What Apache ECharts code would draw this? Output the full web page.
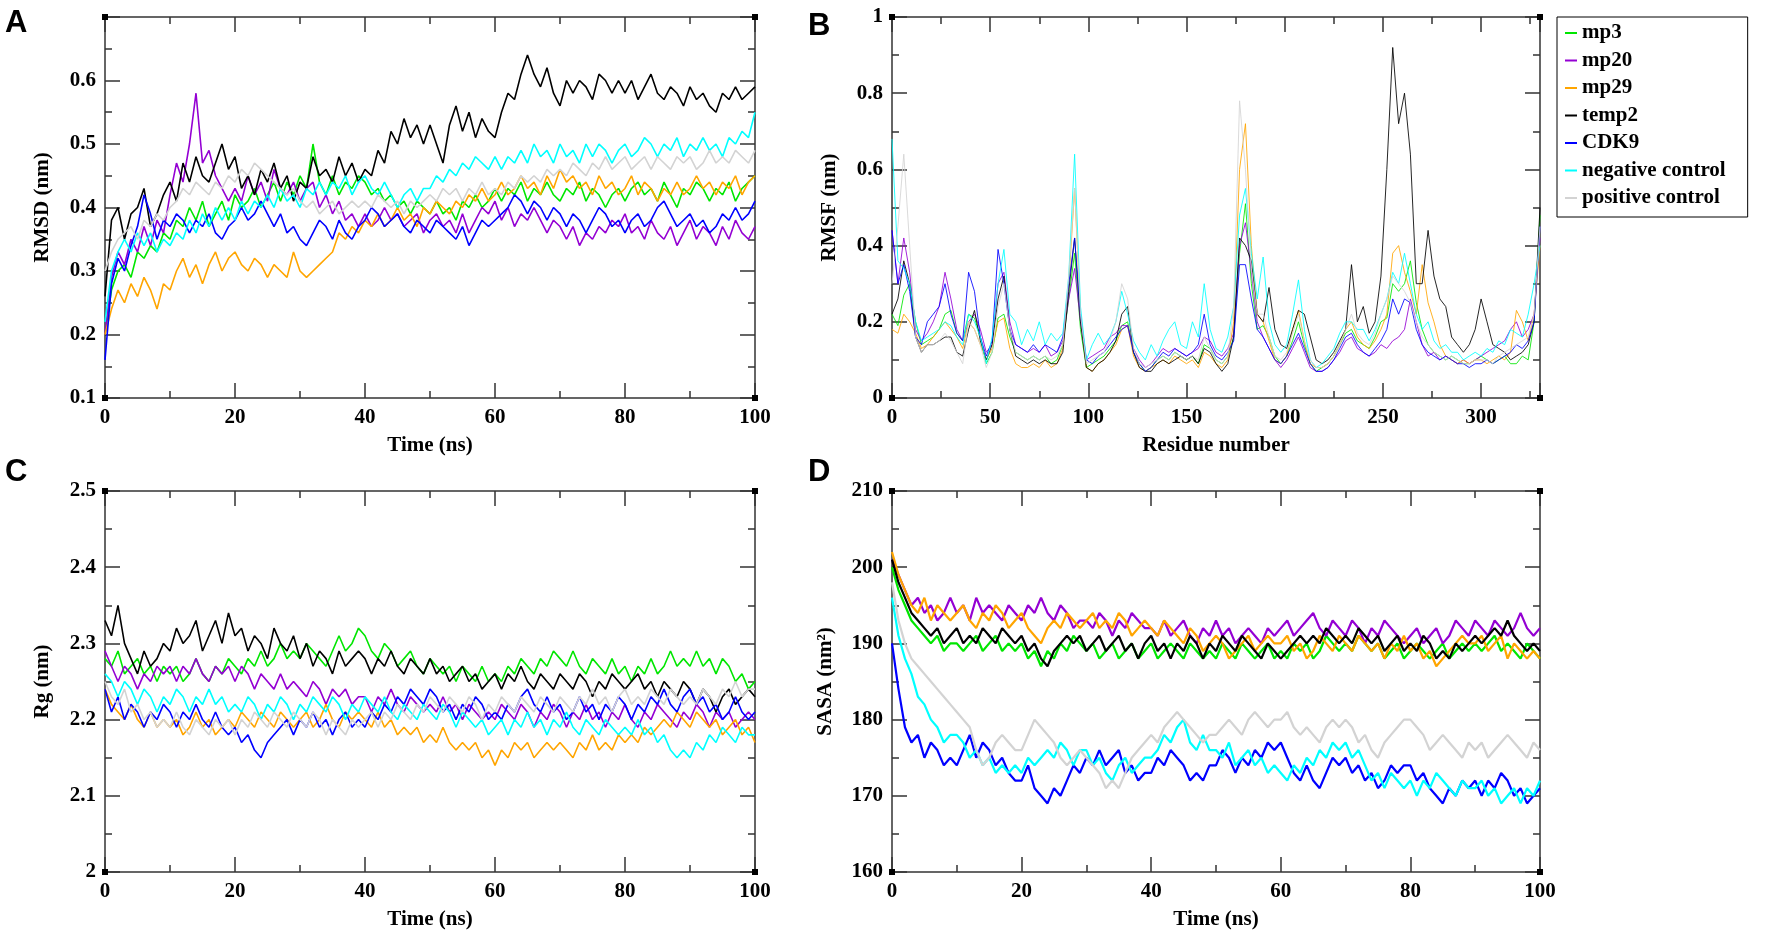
<!DOCTYPE html>
<html>
<head>
<meta charset="utf-8">
<script src="https://cdn.jsdelivr.net/npm/echarts@6/dist/echarts.min.js"></script>
<style>
  html, body { margin: 0; padding: 0; background: #fff; }
  #chart { width: 1772px; height: 933px; }
</style>
</head>
<body>
<div id="chart"></div>
<script>
const SERIES_NAMES = ["mp3", "mp20", "mp29", "temp2", "CDK9", "negative control", "positive control"];
const SERIES_COLORS = ["#00e600", "#9400d3", "#ffa500", "#000000", "#0000ff", "#00ffff", "#d3d3d3"];

const TIME_NS = [
  0, 1, 2, 3, 4, 5, 6, 7, 8, 9, 10, 11, 12, 13, 14, 15, 16, 17, 18, 19,
  20, 21, 22, 23, 24, 25, 26, 27, 28, 29, 30, 31, 32, 33, 34, 35, 36, 37, 38, 39,
  40, 41, 42, 43, 44, 45, 46, 47, 48, 49, 50, 51, 52, 53, 54, 55, 56, 57, 58, 59,
  60, 61, 62, 63, 64, 65, 66, 67, 68, 69, 70, 71, 72, 73, 74, 75, 76, 77, 78, 79,
  80, 81, 82, 83, 84, 85, 86, 87, 88, 89, 90, 91, 92, 93, 94, 95, 96, 97, 98, 99, 100
];
const RESIDUES = [
  0, 3, 6, 9, 12, 15, 18, 21, 24, 27, 30, 33, 36, 39, 42, 45, 48, 51, 54, 57,
  60, 63, 66, 69, 72, 75, 78, 81, 84, 87, 90, 93, 96, 99, 102, 105, 108, 111, 114, 117,
  120, 123, 126, 129, 132, 135, 138, 141, 144, 147, 150, 153, 156, 159, 162, 165, 168, 171, 174, 177,
  180, 183, 186, 189, 192, 195, 198, 201, 204, 207, 210, 213, 216, 219, 222, 225, 228, 231, 234, 237,
  240, 243, 246, 249, 252, 255, 258, 261, 264, 267, 270, 273, 276, 279, 282, 285, 288, 291, 294, 297,
  300, 303, 306, 309, 312, 315, 318, 321, 324, 327, 330
];

// ---- A: RMSD (nm) ----
const rmsdMp3 = [
  0.20,0.27,0.30,0.31,0.29,0.33,0.32,0.34,0.33,0.36, 0.35,0.38,0.37,0.40,0.38,0.41,0.37,0.39,0.41,0.38,
  0.42,0.40,0.41,0.43,0.40,0.42,0.44,0.41,0.44,0.42, 0.45,0.43,0.50,0.44,0.42,0.45,0.42,0.44,0.43,0.45,
  0.44,0.42,0.43,0.41,0.42,0.40,0.41,0.39,0.41,0.40, 0.39,0.41,0.39,0.40,0.38,0.41,0.40,0.42,0.40,0.41,
  0.43,0.41,0.43,0.42,0.44,0.41,0.43,0.42,0.44,0.42, 0.41,0.43,0.42,0.44,0.41,0.43,0.42,0.40,0.42,0.43,
  0.41,0.43,0.44,0.42,0.43,0.41,0.44,0.42,0.40,0.43, 0.42,0.44,0.43,0.41,0.43,0.42,0.44,0.41,0.43,0.44, 0.45
];
const rmsdMp20 = [
  0.20,0.29,0.33,0.31,0.35,0.33,0.37,0.34,0.38,0.36, 0.42,0.47,0.44,0.50,0.58,0.47,0.49,0.45,0.43,0.41,
  0.43,0.41,0.45,0.42,0.44,0.41,0.46,0.43,0.42,0.44, 0.41,0.43,0.44,0.40,0.42,0.39,0.41,0.38,0.39,0.37,
  0.39,0.37,0.38,0.40,0.38,0.39,0.37,0.38,0.39,0.36, 0.38,0.39,0.37,0.38,0.36,0.39,0.36,0.38,0.40,0.39,
  0.41,0.38,0.40,0.37,0.39,0.38,0.40,0.38,0.36,0.38, 0.37,0.35,0.37,0.34,0.36,0.35,0.37,0.36,0.38,0.37,
  0.39,0.36,0.37,0.35,0.38,0.36,0.35,0.37,0.34,0.36, 0.38,0.35,0.37,0.36,0.34,0.37,0.35,0.38,0.36,0.35, 0.37
];
const rmsdMp29 = [
  0.20,0.24,0.27,0.25,0.28,0.26,0.29,0.27,0.24,0.28, 0.27,0.30,0.32,0.29,0.31,0.28,0.31,0.33,0.30,0.32,
  0.33,0.31,0.30,0.32,0.31,0.29,0.31,0.30,0.29,0.33, 0.30,0.29,0.30,0.31,0.32,0.33,0.36,0.35,0.37,0.36,
  0.38,0.37,0.39,0.37,0.38,0.40,0.38,0.39,0.37,0.40, 0.39,0.41,0.40,0.39,0.41,0.40,0.42,0.41,0.43,0.41,
  0.42,0.44,0.42,0.43,0.45,0.43,0.44,0.42,0.45,0.43, 0.46,0.44,0.45,0.43,0.44,0.42,0.45,0.43,0.44,0.42,
  0.43,0.45,0.42,0.44,0.43,0.41,0.43,0.42,0.44,0.42, 0.43,0.45,0.43,0.44,0.42,0.44,0.43,0.45,0.42,0.44, 0.45
];
const rmsdTemp2 = [
  0.26,0.38,0.40,0.35,0.39,0.40,0.43,0.37,0.39,0.42, 0.44,0.41,0.47,0.44,0.48,0.45,0.44,0.47,0.50,0.46,
  0.48,0.43,0.45,0.42,0.46,0.44,0.47,0.43,0.45,0.41, 0.44,0.43,0.48,0.45,0.46,0.44,0.48,0.45,0.47,0.44,
  0.46,0.45,0.49,0.47,0.52,0.50,0.54,0.51,0.53,0.50, 0.53,0.50,0.47,0.53,0.56,0.52,0.55,0.51,0.54,0.52,
  0.51,0.55,0.58,0.57,0.61,0.64,0.61,0.59,0.62,0.58, 0.56,0.60,0.58,0.60,0.59,0.57,0.61,0.60,0.58,0.60,
  0.58,0.60,0.57,0.59,0.61,0.58,0.57,0.59,0.58,0.56, 0.59,0.57,0.58,0.56,0.55,0.58,0.57,0.59,0.57,0.58, 0.59
];
const rmsdCdk9 = [
  0.16,0.28,0.32,0.30,0.34,0.37,0.42,0.39,0.35,0.38, 0.37,0.39,0.38,0.36,0.38,0.37,0.39,0.36,0.35,0.37,
  0.38,0.40,0.38,0.39,0.41,0.39,0.37,0.39,0.36,0.37, 0.35,0.34,0.36,0.38,0.37,0.35,0.38,0.36,0.35,0.37,
  0.38,0.40,0.39,0.37,0.38,0.39,0.37,0.36,0.38,0.37, 0.36,0.38,0.37,0.36,0.35,0.37,0.34,0.36,0.38,0.37,
  0.38,0.39,0.40,0.42,0.41,0.39,0.41,0.40,0.38,0.40, 0.39,0.37,0.39,0.38,0.36,0.38,0.40,0.39,0.37,0.38,
  0.36,0.38,0.39,0.37,0.38,0.40,0.41,0.39,0.37,0.38, 0.39,0.37,0.38,0.36,0.37,0.39,0.38,0.40,0.38,0.39, 0.41
];
const rmsdNeg = [
  0.22,0.30,0.33,0.35,0.33,0.36,0.34,0.36,0.33,0.35, 0.34,0.36,0.35,0.38,0.36,0.39,0.37,0.40,0.38,0.40,
  0.38,0.41,0.39,0.41,0.40,0.42,0.40,0.43,0.41,0.42, 0.40,0.43,0.42,0.44,0.42,0.44,0.43,0.45,0.42,0.44,
  0.45,0.43,0.42,0.44,0.42,0.40,0.42,0.43,0.41,0.43, 0.43,0.45,0.44,0.46,0.45,0.47,0.46,0.48,0.47,0.46,
  0.48,0.46,0.48,0.47,0.49,0.47,0.50,0.48,0.49,0.47, 0.50,0.48,0.49,0.47,0.50,0.48,0.50,0.49,0.47,0.49,
  0.50,0.48,0.49,0.51,0.50,0.48,0.50,0.49,0.51,0.48, 0.50,0.49,0.51,0.49,0.50,0.48,0.51,0.50,0.52,0.51, 0.55
];
const rmsdPos = [
  0.30,0.33,0.35,0.36,0.37,0.35,0.38,0.37,0.39,0.38, 0.40,0.41,0.43,0.42,0.44,0.43,0.42,0.44,0.43,0.45,
  0.44,0.46,0.45,0.47,0.46,0.45,0.44,0.43,0.42,0.43, 0.41,0.40,0.41,0.39,0.40,0.41,0.39,0.40,0.41,0.40,
  0.41,0.40,0.42,0.41,0.40,0.41,0.39,0.41,0.40,0.41, 0.42,0.41,0.43,0.42,0.43,0.41,0.43,0.42,0.44,0.42,
  0.43,0.42,0.44,0.43,0.45,0.44,0.45,0.44,0.46,0.45, 0.46,0.45,0.47,0.46,0.45,0.47,0.46,0.48,0.46,0.47,
  0.48,0.46,0.47,0.48,0.46,0.48,0.47,0.46,0.48,0.47, 0.48,0.46,0.47,0.49,0.47,0.48,0.47,0.49,0.48,0.47, 0.49
];

// ---- B: RMSF (nm) per residue ----
const rmsfMp3 = [
  0.22,0.19,0.27,0.30,0.20,0.14,0.15,0.16,0.18,0.22, 0.23,0.17,0.15,0.22,0.21,0.16,0.09,0.12,0.21,0.22,
  0.16,0.12,0.11,0.10,0.11,0.10,0.11,0.09,0.10,0.14, 0.26,0.38,0.18,0.08,0.09,0.10,0.11,0.13,0.15,0.19,
  0.20,0.12,0.09,0.07,0.08,0.10,0.11,0.10,0.12,0.11, 0.10,0.11,0.09,0.14,0.13,0.10,0.09,0.11,0.16,0.38,
  0.51,0.30,0.18,0.19,0.16,0.11,0.09,0.11,0.15,0.20, 0.14,0.09,0.07,0.08,0.09,0.11,0.14,0.17,0.18,0.15,
  0.14,0.13,0.16,0.20,0.21,0.30,0.28,0.30,0.36,0.25, 0.18,0.14,0.12,0.11,0.10,0.11,0.10,0.09,0.09,0.10,
  0.11,0.10,0.09,0.10,0.11,0.09,0.09,0.11,0.10,0.20, 0.48
];
const rmsfMp20 = [
  0.44,0.30,0.42,0.33,0.18,0.15,0.17,0.20,0.24,0.33, 0.26,0.18,0.15,0.20,0.22,0.18,0.12,0.14,0.30,0.33,
  0.20,0.14,0.13,0.12,0.13,0.12,0.14,0.11,0.12,0.15, 0.26,0.34,0.20,0.10,0.11,0.12,0.13,0.16,0.17,0.19,
  0.19,0.13,0.10,0.08,0.09,0.11,0.13,0.12,0.13,0.12, 0.11,0.12,0.13,0.16,0.15,0.12,0.11,0.13,0.17,0.40,
  0.46,0.33,0.20,0.16,0.13,0.10,0.08,0.10,0.13,0.16, 0.12,0.08,0.07,0.07,0.08,0.10,0.12,0.15,0.16,0.13,
  0.12,0.11,0.12,0.14,0.13,0.15,0.16,0.18,0.26,0.20, 0.14,0.11,0.12,0.10,0.11,0.10,0.09,0.10,0.09,0.10,
  0.11,0.12,0.13,0.14,0.15,0.18,0.20,0.16,0.18,0.22, 0.42
];
const rmsfMp29 = [
  0.18,0.17,0.22,0.20,0.17,0.13,0.14,0.16,0.18,0.20, 0.18,0.16,0.13,0.20,0.18,0.14,0.10,0.13,0.20,0.21,
  0.13,0.09,0.08,0.08,0.09,0.08,0.10,0.08,0.09,0.13, 0.30,0.55,0.22,0.08,0.07,0.09,0.10,0.12,0.14,0.18,
  0.19,0.11,0.08,0.07,0.08,0.09,0.10,0.09,0.11,0.10, 0.09,0.10,0.08,0.12,0.11,0.09,0.08,0.10,0.20,0.60,
  0.72,0.40,0.22,0.20,0.15,0.10,0.09,0.11,0.18,0.23, 0.15,0.09,0.08,0.08,0.09,0.11,0.14,0.18,0.20,0.16,
  0.14,0.13,0.15,0.18,0.22,0.38,0.40,0.33,0.28,0.22, 0.35,0.25,0.20,0.14,0.11,0.10,0.09,0.10,0.09,0.10,
  0.10,0.09,0.10,0.11,0.10,0.12,0.23,0.20,0.15,0.22, 0.40
];
const rmsfTemp2 = [
  0.22,0.26,0.36,0.30,0.16,0.12,0.14,0.14,0.15,0.16, 0.16,0.12,0.11,0.18,0.23,0.15,0.10,0.14,0.26,0.32,
  0.18,0.11,0.10,0.09,0.10,0.09,0.10,0.09,0.09,0.12, 0.28,0.42,0.20,0.08,0.07,0.09,0.10,0.12,0.15,0.22,
  0.24,0.12,0.08,0.07,0.07,0.09,0.10,0.09,0.10,0.11, 0.10,0.11,0.09,0.13,0.12,0.09,0.07,0.09,0.16,0.42,
  0.40,0.36,0.22,0.20,0.29,0.18,0.14,0.13,0.18,0.23, 0.22,0.16,0.10,0.09,0.10,0.12,0.15,0.18,0.35,0.20,
  0.24,0.17,0.20,0.32,0.60,0.92,0.72,0.80,0.64,0.30, 0.30,0.44,0.32,0.26,0.24,0.16,0.14,0.12,0.14,0.18,
  0.26,0.20,0.14,0.13,0.12,0.10,0.11,0.12,0.14,0.20, 0.50
];
const rmsfCdk9 = [
  0.44,0.30,0.35,0.28,0.16,0.14,0.20,0.22,0.24,0.30, 0.22,0.17,0.15,0.33,0.28,0.16,0.11,0.15,0.39,0.30,
  0.18,0.14,0.13,0.12,0.14,0.12,0.14,0.13,0.12,0.16, 0.30,0.42,0.22,0.10,0.09,0.11,0.12,0.14,0.16,0.18,
  0.19,0.12,0.09,0.07,0.08,0.10,0.12,0.11,0.13,0.12, 0.11,0.12,0.14,0.22,0.14,0.11,0.10,0.12,0.15,0.35,
  0.35,0.26,0.18,0.16,0.13,0.10,0.09,0.11,0.14,0.17, 0.13,0.09,0.07,0.07,0.08,0.10,0.13,0.16,0.17,0.14,
  0.12,0.11,0.13,0.15,0.18,0.26,0.22,0.26,0.25,0.18, 0.14,0.12,0.11,0.10,0.11,0.10,0.09,0.09,0.08,0.09,
  0.09,0.10,0.09,0.10,0.11,0.12,0.14,0.13,0.15,0.20, 0.45
];
const rmsfNeg = [
  0.68,0.36,0.34,0.30,0.20,0.15,0.16,0.17,0.18,0.20, 0.19,0.16,0.14,0.22,0.20,0.16,0.09,0.16,0.30,0.39,
  0.22,0.20,0.14,0.18,0.15,0.20,0.14,0.17,0.15,0.17, 0.32,0.64,0.24,0.10,0.14,0.17,0.14,0.16,0.20,0.28,
  0.22,0.15,0.12,0.10,0.14,0.11,0.15,0.18,0.20,0.14, 0.13,0.20,0.16,0.30,0.18,0.13,0.12,0.16,0.24,0.48,
  0.55,0.38,0.26,0.37,0.20,0.14,0.12,0.14,0.22,0.31, 0.18,0.10,0.08,0.09,0.11,0.13,0.17,0.20,0.20,0.18,
  0.18,0.15,0.18,0.22,0.26,0.33,0.30,0.38,0.30,0.22, 0.18,0.20,0.15,0.13,0.14,0.12,0.12,0.10,0.11,0.12,
  0.11,0.13,0.12,0.15,0.14,0.18,0.17,0.16,0.22,0.30, 0.40
];
const rmsfPos = [
  0.30,0.45,0.64,0.40,0.16,0.12,0.14,0.14,0.15,0.17, 0.15,0.12,0.09,0.20,0.18,0.14,0.08,0.12,0.24,0.30,
  0.18,0.12,0.11,0.10,0.11,0.10,0.11,0.10,0.11,0.14, 0.32,0.55,0.22,0.09,0.10,0.11,0.12,0.15,0.20,0.30,
  0.26,0.13,0.09,0.08,0.09,0.10,0.11,0.10,0.12,0.11, 0.10,0.11,0.10,0.16,0.13,0.10,0.09,0.11,0.24,0.78,
  0.60,0.34,0.22,0.22,0.16,0.11,0.10,0.12,0.17,0.22, 0.15,0.10,0.08,0.08,0.09,0.11,0.14,0.18,0.22,0.17,
  0.15,0.14,0.17,0.22,0.26,0.32,0.30,0.28,0.25,0.20, 0.16,0.14,0.12,0.11,0.10,0.11,0.10,0.09,0.09,0.10,
  0.10,0.10,0.09,0.11,0.12,0.13,0.14,0.15,0.16,0.22, 0.45
];

// ---- C: Rg (nm) ----
const rgMp3 = [
  2.28,2.27,2.29,2.26,2.27,2.28,2.26,2.27,2.25,2.27, 2.26,2.27,2.25,2.26,2.28,2.26,2.25,2.27,2.26,2.28,
  2.27,2.26,2.28,2.27,2.29,2.27,2.28,2.30,2.28,2.29, 2.28,2.30,2.29,2.28,2.27,2.29,2.31,2.29,2.30,2.32,
  2.31,2.29,2.28,2.30,2.29,2.27,2.28,2.29,2.27,2.26, 2.28,2.27,2.26,2.27,2.25,2.27,2.26,2.25,2.27,2.25,
  2.26,2.25,2.27,2.26,2.28,2.27,2.26,2.28,2.27,2.29, 2.28,2.27,2.29,2.27,2.26,2.28,2.27,2.26,2.28,2.26,
  2.27,2.25,2.27,2.26,2.28,2.26,2.27,2.29,2.27,2.28, 2.27,2.29,2.27,2.28,2.26,2.28,2.27,2.25,2.26,2.24, 2.25
];
const rgMp20 = [
  2.29,2.27,2.25,2.27,2.26,2.24,2.26,2.25,2.27,2.26, 2.27,2.25,2.27,2.26,2.28,2.26,2.25,2.27,2.26,2.27,
  2.25,2.27,2.26,2.24,2.26,2.25,2.24,2.26,2.24,2.25, 2.24,2.23,2.25,2.24,2.22,2.24,2.23,2.24,2.22,2.23,
  2.23,2.21,2.23,2.22,2.24,2.22,2.21,2.23,2.22,2.21, 2.22,2.21,2.23,2.21,2.22,2.20,2.22,2.21,2.20,2.21,
  2.20,2.22,2.21,2.20,2.22,2.21,2.19,2.21,2.20,2.22, 2.21,2.19,2.21,2.20,2.22,2.20,2.21,2.19,2.21,2.20,
  2.22,2.20,2.19,2.21,2.20,2.22,2.21,2.20,2.19,2.21, 2.20,2.22,2.21,2.19,2.21,2.20,2.21,2.19,2.20,2.21, 2.20
];
const rgMp29 = [
  2.24,2.22,2.21,2.20,2.22,2.20,2.19,2.21,2.19,2.20, 2.19,2.20,2.18,2.19,2.21,2.19,2.20,2.18,2.19,2.20,
  2.19,2.21,2.20,2.19,2.21,2.20,2.19,2.21,2.20,2.19, 2.20,2.21,2.19,2.20,2.22,2.20,2.19,2.21,2.20,2.21,
  2.20,2.19,2.21,2.19,2.20,2.18,2.19,2.18,2.19,2.17, 2.18,2.17,2.19,2.17,2.16,2.17,2.16,2.17,2.15,2.16,
  2.14,2.16,2.15,2.17,2.16,2.17,2.15,2.16,2.17,2.16, 2.17,2.16,2.15,2.17,2.16,2.18,2.16,2.17,2.16,2.18,
  2.17,2.18,2.17,2.19,2.18,2.19,2.20,2.19,2.21,2.20, 2.19,2.21,2.20,2.19,2.20,2.18,2.19,2.20,2.18,2.19, 2.17
];
const rgTemp2 = [
  2.33,2.31,2.35,2.30,2.28,2.26,2.29,2.27,2.28,2.30, 2.29,2.32,2.30,2.31,2.33,2.29,2.31,2.33,2.30,2.34,
  2.31,2.32,2.29,2.31,2.30,2.28,2.32,2.30,2.29,2.31, 2.28,2.30,2.27,2.29,2.28,2.26,2.29,2.27,2.28,2.29,
  2.28,2.26,2.28,2.27,2.29,2.27,2.26,2.28,2.27,2.26, 2.28,2.26,2.27,2.25,2.26,2.27,2.25,2.26,2.24,2.25,
  2.26,2.24,2.26,2.25,2.27,2.25,2.24,2.26,2.25,2.24, 2.26,2.25,2.24,2.26,2.25,2.23,2.25,2.24,2.26,2.25,
  2.24,2.25,2.26,2.24,2.25,2.23,2.25,2.24,2.23,2.25, 2.24,2.22,2.24,2.23,2.21,2.23,2.24,2.22,2.23,2.24, 2.23
];
const rgCdk9 = [
  2.24,2.21,2.23,2.20,2.22,2.21,2.19,2.21,2.20,2.22, 2.21,2.19,2.21,2.20,2.22,2.20,2.19,2.21,2.19,2.18,
  2.19,2.17,2.18,2.16,2.15,2.17,2.18,2.19,2.20,2.18, 2.20,2.19,2.21,2.19,2.20,2.18,2.20,2.21,2.19,2.20,
  2.19,2.21,2.20,2.22,2.21,2.23,2.22,2.24,2.23,2.22, 2.24,2.23,2.21,2.22,2.20,2.22,2.21,2.23,2.22,2.20,
  2.21,2.20,2.22,2.21,2.23,2.24,2.22,2.21,2.23,2.21, 2.22,2.20,2.21,2.23,2.21,2.22,2.20,2.22,2.21,2.23,
  2.22,2.20,2.22,2.21,2.23,2.22,2.24,2.22,2.21,2.23, 2.24,2.22,2.23,2.21,2.22,2.20,2.21,2.23,2.21,2.20, 2.21
];
const rgNeg = [
  2.26,2.25,2.23,2.25,2.24,2.22,2.24,2.23,2.21,2.23, 2.22,2.24,2.23,2.21,2.23,2.22,2.24,2.22,2.23,2.21,
  2.22,2.21,2.23,2.22,2.20,2.22,2.21,2.23,2.22,2.20, 2.22,2.21,2.23,2.22,2.21,2.23,2.22,2.20,2.22,2.21,
  2.23,2.22,2.21,2.23,2.21,2.20,2.22,2.21,2.20,2.22, 2.21,2.20,2.22,2.21,2.19,2.21,2.20,2.19,2.20,2.18,
  2.19,2.20,2.18,2.20,2.19,2.21,2.19,2.20,2.18,2.20, 2.19,2.21,2.19,2.18,2.20,2.19,2.18,2.20,2.19,2.18,
  2.19,2.18,2.20,2.18,2.19,2.17,2.18,2.16,2.15,2.16, 2.15,2.17,2.16,2.18,2.17,2.19,2.18,2.17,2.19,2.18, 2.18
];
const rgPos = [
  2.25,2.23,2.22,2.24,2.21,2.22,2.20,2.21,2.19,2.20, 2.19,2.21,2.19,2.18,2.20,2.19,2.18,2.20,2.19,2.20,
  2.18,2.20,2.19,2.21,2.20,2.19,2.21,2.20,2.19,2.21, 2.20,2.19,2.21,2.20,2.18,2.20,2.19,2.18,2.20,2.19,
  2.20,2.21,2.19,2.21,2.20,2.22,2.21,2.20,2.22,2.21, 2.23,2.22,2.21,2.23,2.22,2.21,2.23,2.22,2.20,2.22,
  2.21,2.23,2.22,2.21,2.23,2.22,2.21,2.23,2.22,2.21, 2.23,2.22,2.21,2.23,2.22,2.24,2.22,2.23,2.21,2.23,
  2.24,2.22,2.23,2.22,2.24,2.23,2.22,2.24,2.23,2.22, 2.23,2.22,2.24,2.23,2.22,2.24,2.23,2.25,2.23,2.24, 2.24
];

// ---- D: SASA (nm^2) ----
const sasaMp3 = [
  200,197,195,193,192,191,190,191,189,190, 190,189,190,191,189,190,191,189,190,189,
  190,188,189,187,189,188,190,189,191,190, 189,190,188,189,190,188,189,190,188,189,
  190,188,189,190,189,188,190,189,188,189, 188,190,189,188,190,189,188,189,190,188,
  189,188,190,189,190,188,189,191,190,189, 190,189,191,190,189,190,188,189,190,188,
  189,190,189,188,189,190,188,189,190,189, 190,189,190,191,189,190,189,188,190,189, 188
];
const sasaMp20 = [
  201,199,197,195,196,194,195,193,194,196, 194,195,193,196,194,195,194,193,195,194,
  193,195,194,196,194,193,195,194,192,193, 193,192,194,193,191,193,192,194,193,192,
  192,191,193,191,192,193,191,190,192,191, 193,191,192,190,191,192,191,190,192,191,
  192,193,191,192,193,194,192,191,193,192, 191,193,192,190,192,191,193,192,191,190,
  191,192,190,191,192,190,191,193,192,191, 193,192,191,193,192,191,192,194,192,191, 192
];
const sasaMp29 = [
  202,199,197,195,194,196,193,195,194,193, 194,195,193,192,194,193,195,194,192,193,
  194,192,191,190,192,193,192,194,193,192, 193,194,192,193,192,194,193,191,192,193,
  192,191,193,192,191,190,192,191,189,190, 191,190,188,189,190,191,189,190,191,190,
  190,191,189,190,188,189,191,190,189,191, 190,189,191,190,189,190,188,190,189,191,
  189,190,188,189,187,188,189,190,191,190, 190,191,189,190,191,188,190,189,188,189, 188
];
const sasaTemp2 = [
  201,198,196,194,193,192,191,192,190,191, 192,190,191,190,192,191,190,192,191,190,
  191,189,190,188,187,189,190,191,190,191, 189,190,191,189,190,191,189,190,188,190,
  191,189,190,188,190,189,191,190,188,190, 189,191,190,189,191,190,189,188,190,189,
  188,189,190,191,190,191,190,192,191,190, 191,190,192,191,190,191,189,190,191,189,
  190,189,191,190,188,189,188,190,189,190, 191,190,191,192,191,193,191,190,189,190, 189
];
const sasaCdk9 = [
  190,184,179,177,178,175,177,176,174,175, 174,176,178,175,177,176,174,175,173,172,
  172,174,171,170,169,171,170,172,174,173, 175,174,176,174,175,176,173,174,172,173,
  173,175,174,176,175,174,172,173,172,174, 174,176,175,173,175,174,176,175,177,176,
  177,175,173,172,174,172,171,173,175,174, 175,173,174,172,173,171,172,174,173,174,
  174,172,173,171,170,169,171,170,172,171, 172,170,172,171,173,172,170,171,169,170, 171
];
const sasaNeg = [
  196,191,188,186,183,182,180,179,177,178, 178,177,175,176,174,175,173,174,173,174,
  173,175,174,175,176,175,177,176,174,176, 176,174,175,173,172,174,175,173,174,175,
  175,176,178,177,179,180,177,176,178,176, 176,175,177,174,175,176,174,175,173,174,
  173,172,174,173,175,174,176,175,177,176, 177,175,176,174,172,173,171,173,172,171,
  172,170,172,171,173,172,171,170,172,171, 171,172,170,171,169,170,171,169,171,170, 172
];
const sasaPos = [
  198,193,190,188,187,186,185,184,183,182, 181,180,179,176,174,175,177,178,177,176,
  176,178,180,179,178,177,175,174,175,176, 175,174,173,171,172,171,173,175,176,177,
  178,177,179,180,181,180,179,178,177,178, 178,179,180,179,178,180,181,180,179,180,
  180,181,179,178,179,178,177,179,180,179, 180,179,177,178,176,175,177,178,179,180,
  180,179,178,176,177,178,177,176,175,177, 176,177,175,176,177,178,177,176,175,177, 176
];

const RMSD = [rmsdMp3, rmsdMp20, rmsdMp29, rmsdTemp2, rmsdCdk9, rmsdNeg, rmsdPos];
const RMSF = [rmsfMp3, rmsfMp20, rmsfMp29, rmsfTemp2, rmsfCdk9, rmsfNeg, rmsfPos];
const RG = [rgMp3, rgMp20, rgMp29, rgTemp2, rgCdk9, rgNeg, rgPos];
const SASA = [sasaMp3, sasaMp20, sasaMp29, sasaTemp2, sasaCdk9, sasaNeg, sasaPos];

const FONT = "Liberation Serif";
const GRIDS = [
  { left: 105, top: 17, width: 650, height: 381 },
  { left: 892, top: 17, width: 648, height: 381 },
  { left: 105, top: 491, width: 650, height: 381 },
  { left: 892, top: 491, width: 648, height: 381 }
];
// line width of the traces in each panel (A, B, C, D)
const TRACE_WIDTH = [1.6, 1, 1.6, 2.2];

const lineCol = "#333";
const labelStyle = { fontFamily: FONT, fontWeight: "bold", fontSize: 21, color: "#000" };

function axisBase(gi, min, max, interval) {
  return {
    gridIndex: gi, type: "value", min: min, max: max, interval: interval,
    splitLine: { show: false },
    axisLine: { onZero: false, lineStyle: { color: lineCol, width: 1.5 } },
    axisTick: { inside: true, length: 15, lineStyle: { color: lineCol, width: 1.5 } },
    minorTick: { show: true, splitNumber: 2, length: 7, lineStyle: { color: lineCol, width: 1.5 } }
  };
}

function xAxes(gi, min, max, interval, name) {
  return [
    Object.assign(axisBase(gi, min, max, interval), {
      position: "bottom", name: name, nameLocation: "middle", nameGap: 37,
      nameTextStyle: labelStyle,
      axisLabel: Object.assign({ margin: 9, showMaxLabel: max % interval === 0 }, labelStyle)
    }),
    Object.assign(axisBase(gi, min, max, interval), { position: "top", axisLabel: { show: false } })
  ];
}

function yAxes(gi, min, max, interval, name, gap, fmt) {
  return [
    Object.assign(axisBase(gi, min, max, interval), {
      position: "left", name: name, nameLocation: "middle", nameGap: gap,
      nameTextStyle: labelStyle,
      axisLabel: Object.assign({ margin: 9, formatter: fmt }, labelStyle)
    }),
    Object.assign(axisBase(gi, min, max, interval), { position: "right", axisLabel: { show: false } })
  ];
}

function pairs(xs, ys) {
  return xs.map(function (x, i) { return [x, ys[i]]; });
}

const xAxis = [].concat(
  xAxes(0, 0, 100, 20, "Time (ns)"),
  xAxes(1, 0, 330, 50, "Residue number"),
  xAxes(2, 0, 100, 20, "Time (ns)"),
  xAxes(3, 0, 100, 20, "Time (ns)")
);
const yAxis = [].concat(
  yAxes(0, 0.1, 0.7, 0.1, "RMSD (nm)", 52, function (v) { return v >= 0.69 ? "" : String(+v.toFixed(1)); }),
  yAxes(1, 0, 1, 0.2, "RMSF (nm)", 52, function (v) { return String(+v.toFixed(1)); }),
  yAxes(2, 2, 2.5, 0.1, "Rg (nm)", 52, function (v) { return String(+v.toFixed(1)); }),
  yAxes(3, 160, 210, 10, "SASA (nm²)", 56, function (v) { return String(v); })
);

const series = [];
[[RMSD, TIME_NS], [RMSF, RESIDUES], [RG, TIME_NS], [SASA, TIME_NS]].forEach(function (panel, p) {
  panel[0].forEach(function (vals, k) {
    series.push({
      name: SERIES_NAMES[k], type: "line",
      xAxisIndex: p * 2, yAxisIndex: p * 2,
      data: pairs(panel[1], vals),
      showSymbol: false, symbol: "none", animation: false,
      lineStyle: { color: SERIES_COLORS[k], width: TRACE_WIDTH[p], opacity: p === 1 ? 0.85 : 1 },
      itemStyle: { color: SERIES_COLORS[k] }
    });
  });
});

const graphic = [];
[["A", 5, 8], ["B", 808, 11], ["C", 5, 457], ["D", 808, 457]].forEach(function (l) {
  graphic.push({ type: "text", left: l[1], top: l[2],
    style: { text: l[0], font: 'bold 31px "Liberation Sans"', fill: "#000" } });
});
GRIDS.forEach(function (g) {
  [[g.left, g.top], [g.left + g.width, g.top], [g.left, g.top + g.height], [g.left + g.width, g.top + g.height]]
    .forEach(function (c) {
      graphic.push({ type: "rect", shape: { x: c[0] - 3, y: c[1] - 3, width: 6, height: 6 },
        style: { fill: "#000" }, z: 10 });
    });
});

const chart = echarts.init(document.getElementById("chart"));
chart.setOption({
  backgroundColor: "#fff",
  animation: false,
  grid: GRIDS,
  xAxis: xAxis,
  yAxis: yAxis,
  legend: {
    data: SERIES_NAMES, orient: "vertical", left: 1557, top: 17,
    icon: "rect", itemWidth: 12, itemHeight: 2, itemGap: 5.5,
    padding: [5, 22, 8, 8], borderColor: "#000", borderWidth: 1,
    selectedMode: false,
    textStyle: { fontFamily: FONT, fontWeight: "bold", fontSize: 21, lineHeight: 22, color: "#000" }
  },
  graphic: graphic,
  series: series
});
</script>
</body>
</html>
